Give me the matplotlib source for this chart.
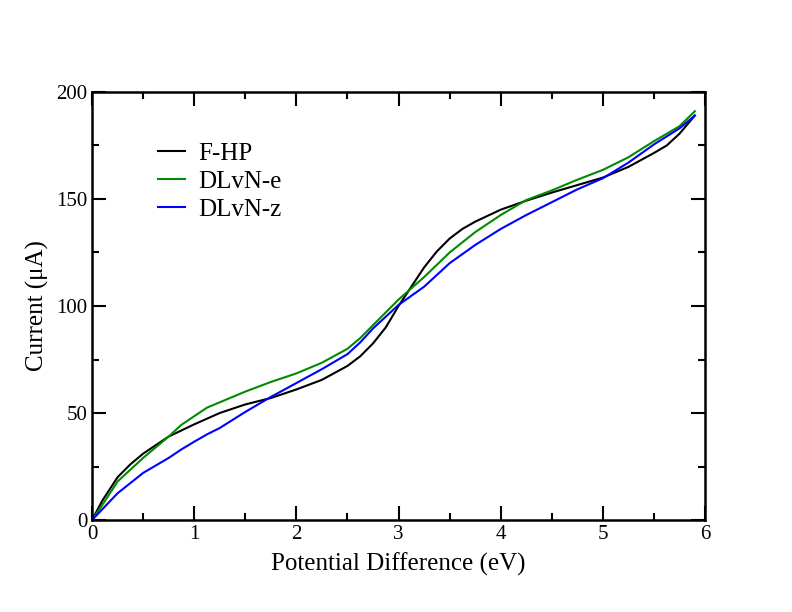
import matplotlib
matplotlib.use("Agg")
import matplotlib.pyplot as plt
from matplotlib.ticker import MultipleLocator

# potential difference (eV) and current (uA)
x_fhp = [0.0, 0.1, 0.25, 0.375, 0.5, 0.75, 1.0, 1.25, 1.5, 1.75, 2.0, 2.25,
         2.5, 2.625, 2.75, 2.875, 3.0, 3.125, 3.25, 3.375, 3.5, 3.625, 3.75,
         4.0, 4.25, 4.5, 4.75, 5.0, 5.25, 5.5, 5.625, 5.75, 5.9]
fhp = [0, 9, 20, 26, 31, 39, 44.7, 50, 54, 57, 61, 65.5,
       72, 76.5, 82.5, 90, 100, 109, 118, 125.5, 131.5, 136, 139.4,
       145, 149.2, 153, 156.5, 160, 165, 171.5, 175, 180.5, 189]

x_dlvn = [0.0, 0.1, 0.25, 0.5, 0.75, 0.875, 1.0, 1.125, 1.25, 1.5, 1.75, 2.0,
          2.25, 2.5, 2.625, 2.75, 2.875, 3.0, 3.25, 3.5, 3.75, 4.0, 4.25,
          4.5, 4.75, 5.0, 5.25, 5.5, 5.75, 5.9]
dlvn_e = [0, 7, 18, 29, 39, 44.5, 48.5, 52.5, 55, 60, 64.5, 68.5,
          73.5, 80, 85, 91, 97, 103, 113.5, 125, 134.5, 142.5, 149.5,
          154, 159, 163.6, 169.5, 177, 184, 191]
dlvn_z = [0, 5, 12.5, 22, 29, 33, 36.6, 40, 43, 50.5, 57.5, 64,
          70.5, 77.5, 83, 89.5, 95, 100.5, 109, 120, 128.5, 136, 142.5,
          148.5, 154.5, 159.7, 167, 175.5, 183, 189]

plt.rcParams['font.family'] = ['Liberation Serif', 'DejaVu Serif']

fig = plt.figure(figsize=(7.92, 6.12), dpi=100)
ax = fig.add_axes([0.1162, 0.1503, 0.774, 0.6994])

ax.plot(x_fhp, fhp, color='black', lw=1.5, label='F-HP')
ax.plot(x_dlvn, dlvn_e, color='#008b00', lw=1.5, label='DLvN-e')
ax.plot(x_dlvn, dlvn_z, color='#0000ff', lw=1.5, label='DLvN-z')

ax.set_xlim(0, 6)
ax.set_ylim(0, 200)
ax.xaxis.set_major_locator(MultipleLocator(1))
ax.xaxis.set_minor_locator(MultipleLocator(0.5))
ax.yaxis.set_major_locator(MultipleLocator(50))
ax.yaxis.set_minor_locator(MultipleLocator(25))
ax.tick_params(which='both', direction='in', top=True, right=True, width=1.5, labelsize=15)
ax.tick_params(which='major', length=10)
ax.tick_params(which='minor', length=5)
for s in ax.spines.values():
    s.set_linewidth(1.8)

ax.set_xlabel('Potential Difference (eV)', fontsize=18, labelpad=6)
ax.set_ylabel('Current (μA)', fontsize=18, labelpad=5)

ax.legend(loc='upper left', bbox_to_anchor=(0.091, 0.905), frameon=False, fontsize=18,
          handlelength=1.08, handletextpad=0.52, labelspacing=0.22, borderaxespad=0)

fig.savefig('out.png', dpi=100)
